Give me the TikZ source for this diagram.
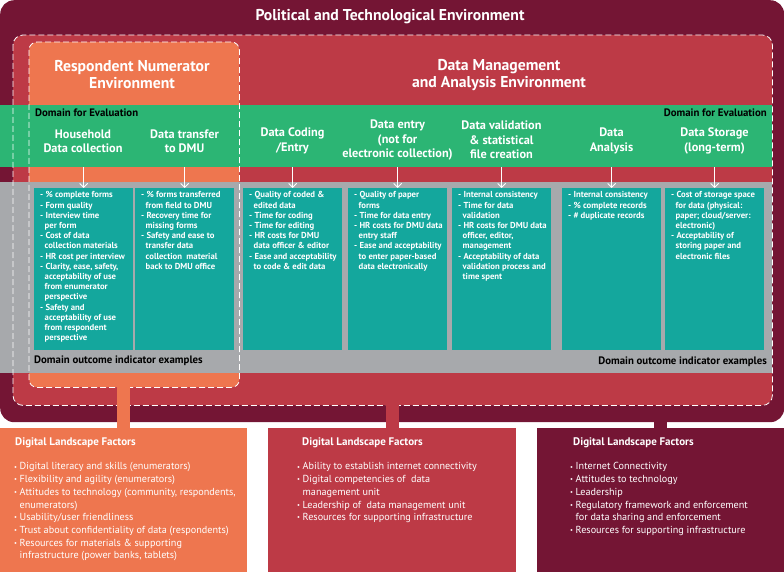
\documentclass[tikz,border=0pt]{standalone}
\usepackage{fontspec}
\setmainfont{PT Sans}
\usetikzlibrary{
    arrows.meta,
    positioning,
    calc
}
\definecolor{polred}{HTML}{741534}
\definecolor{dmred}{HTML}{BD3A46}
\definecolor{rnorange}{HTML}{EE764F}
\definecolor{domgreen}{HTML}{2CB574}
\definecolor{outgray}{HTML}{A7A9AC}
\definecolor{indteal}{HTML}{14A79D}

\newcommand{\bul}{\makebox[5.5pt][l]{\fontsize{6.5}{6.5}\selectfont\raisebox{0.8pt}{•}}}
\newcommand{\bcont}{\hspace*{5.5pt}}
\newcommand{\dcont}{\hspace*{4.5pt}}

\tikzset{
    panel/.style={anchor=north west, inner sep=0pt, rounded corners=#1},
    band/.style={anchor=north west, inner sep=0pt, minimum width=772pt},
    envtitle/.style={text=white, align=center, font=\bfseries\fontsize{15.7}{17}\selectfont},
    domlabel/.style={inner sep=0pt, font=\bfseries\fontsize{10.8}{12}\selectfont},
    colhead/.style={text=white, align=center, font=\bfseries\fontsize{12.3}{14.3}\selectfont},
    indbox/.style={anchor=north west, inner sep=0pt, fill=indteal, minimum width=99pt, minimum height=162pt},
    indtext/.style={anchor=north west, align=left, text=white, inner xsep=6pt, inner ysep=3.5pt,
        font=\bfseries\fontsize{8.7}{10.2}\selectfont},
    downarr/.style={white, line width=0.9pt, -{Straight Barb[length=4pt, width=8pt]}},
    envline/.style={white, line width=0.8pt, dash pattern=on 6pt off 3pt},
    factbox/.style={anchor=north west, inner sep=0pt, minimum height=144pt, minimum width=#1},
    facthead/.style={anchor=west, inner sep=0pt, text=white, font=\bfseries\fontsize{11}{12}\selectfont},
    factlist/.style={anchor=north west, inner sep=0pt, align=left, text=white,
        font=\fontsize{10.2}{12.7}\selectfont},
    link/.style={line width=13pt}
}

\begin{document}
\begin{tikzpicture}[x=1pt, y=-1pt]
\useasboundingbox (0,0) rectangle (784,572);

% environments
\node[panel=14pt, fill=polred, minimum width=784pt, minimum height=422pt] (pol) at (0,0) {};
\node[panel=10pt, fill=dmred, minimum width=759pt, minimum height=370pt] (dm) at (13,35) {};
\node[panel=8pt, fill=rnorange, minimum width=210pt, minimum height=345pt] (rn) at (29,42) {};

\node[envtitle] (poltitle) at (390,16.5) {Political and Technological Environment};
\node[envtitle] (rntitle) at (132,75) {Respondent Numerator\\Environment};
\node[envtitle] (dmtitle) at (499,75) {Data Management\\and Analysis Environment};

% domains
\node[band, fill=domgreen, minimum height=62pt] (dom) at (0,105) {};
\node[band, fill=outgray, minimum height=191pt] (out) at (0,182) {};

\node[domlabel, anchor=west] (domleft) at (35,113) {Domain for Evaluation};
\node[domlabel, anchor=east] (domright) at (767,113) {Domain for Evaluation};

\node[colhead] (hh) at (83,141) {Household\\Data collection};
\node[colhead] (tr) at (184.5,141) {Data transfer\\to DMU};
\node[colhead] (cod) at (292.5,141) {Data Coding\\/Entry};
\node[colhead] (ent) at (397.5,140) {Data entry\\(not for\\electronic collection)};
\node[colhead] (val) at (501.5,140) {Data validation\\\& statistical\\file creation};
\node[colhead] (ana) at (611.5,141) {Data\\Analysis};
\node[colhead] (sto) at (714.5,141) {Data Storage\\(long-term)};

% indicator examples
\node[indbox] (ind1) at (34,188) {};
\node[indbox] (ind2) at (135,188) {};
\node[indbox] (ind3) at (243,188) {};
\node[indbox] (ind4) at (348,188) {};
\node[indbox] (ind5) at (452,188) {};
\node[indbox] (ind6) at (562,188) {};
\node[indbox] (ind7) at (665,188) {};

\node[indtext] (ind1t) at (ind1.north west) {- \% complete forms\\- Form quality\\- Interview time\\\dcont per form\\
    - Cost of data\\\dcont collection materials\\- HR cost per interview\\- Clarity, ease, safety,\\
    \dcont acceptability of use\\\dcont from enumerator\\\dcont perspective\\- Safety and\\
    \dcont acceptability of use\\\dcont from respondent\\\dcont perspective};
\node[indtext] (ind2t) at (ind2.north west) {- \% forms transferred\\\dcont from field to DMU\\
    - Recovery time for\\\dcont missing forms\\- Safety and ease to\\\dcont transfer data\\
    \dcont collection\ \ material\\\dcont back to DMU office};
\node[indtext] (ind3t) at (ind3.north west) {- Quality of coded \&\\\dcont edited data\\- Time for coding\\
    - Time for editing\\- HR costs for DMU\\\dcont data officer \& editor\\
    - Ease and acceptability\\\dcont to code \& edit data};
\node[indtext] (ind4t) at (ind4.north west) {- Quality of paper\\\dcont forms\\- Time for data entry\\
    - HR costs for DMU data\\\dcont entry staff\\- Ease and acceptability\\
    \dcont to enter paper-based\\\dcont data electronically};
\node[indtext] (ind5t) at (ind5.north west) {- Internal consistency\\- Time for data\\\dcont validation\\
    - HR costs for DMU data\\\dcont officer, editor,\\\dcont management\\
    - Acceptability of data\\\dcont validation process and\\\dcont time spent};
\node[indtext] (ind6t) at (ind6.north west) {- Internal consistency\\- \% complete records\\- \# duplicate records};
\node[indtext] (ind7t) at (ind7.north west) {- Cost of storage space\\\dcont for data (physical:\\
    \dcont paper; cloud/server:\\\dcont electronic)\\- Acceptability of\\
    \dcont storing paper and\\\dcont electronic files};

\draw[downarr] (ind1.north |- dom.south) -- (ind1.north);
\draw[downarr] (ind2.north |- dom.south) -- (ind2.north);
\draw[downarr] (ind3.north |- dom.south) -- (ind3.north);
\draw[downarr] (ind4.north |- dom.south) -- (ind4.north);
\draw[downarr] (ind5.north |- dom.south) -- (ind5.north);
\draw[downarr] (ind6.north |- dom.south) -- (ind6.north);
\draw[downarr] (ind7.north |- dom.south) -- (ind7.north);

\node[domlabel, anchor=west] (outleft) at (34,361) {Domain outcome indicator examples};
\node[domlabel, anchor=east] (outright) at (767,362) {Domain outcome indicator examples};

% dashed borders of the two inner environments
\draw[envline, rounded corners=10pt] (dm.north west) rectangle (dm.south east);
\draw[envline, rounded corners=8pt] (rn.north west) rectangle (rn.south east);

% digital landscape factors
\node[factbox=247pt, fill=rnorange] (rnf) at (0,428) {};
\node[factbox=248pt, fill=dmred] (dmf) at (268,428) {};
\node[factbox=247pt, fill=polred] (polf) at (537,428) {};

\draw[link, rnorange] (rnf.north |- rn.south) -- (rnf.north);
\draw[link, dmred] (dmf.north |- dm.south) -- (dmf.north);
\draw[link, polred] (polf.north |- pol.south) -- (polf.north);

\node[facthead] (rnfh) at (15,443) {Digital Landscape Factors};
\node[facthead] (dmfh) at (302,443) {Digital Landscape Factors};
\node[facthead] (polfh) at (573,443) {Digital Landscape Factors};

\node[factlist] (rnfl) at (14,462.5) {\bul Digital literacy and skills (enumerators)\\
    \bul Flexibility and agility (enumerators)\\
    \bul Attitudes to technology (community, respondents,\\\bcont enumerators)\\
    \bul Usability/user friendliness\\
    \bul Trust about confidentiality of data (respondents)\\
    \bul Resources for materials \& supporting\\\bcont infrastructure (power banks, tablets)};
\node[factlist] (dmfl) at (297,462.5) {\bul Ability to establish internet connectivity\\
    \bul Digital competencies of\ \ data\\\bcont management unit\\
    \bul Leadership of\ \ data management unit\\
    \bul Resources for supporting infrastructure};
\node[factlist] (polfl) at (570,462.5) {\bul Internet Connectivity\\
    \bul Attitudes to technology\\
    \bul Leadership\\
    \bul Regulatory framework and enforcement\\\bcont for data sharing and enforcement\\
    \bul Resources for supporting infrastructure};
\end{tikzpicture}
\end{document}
